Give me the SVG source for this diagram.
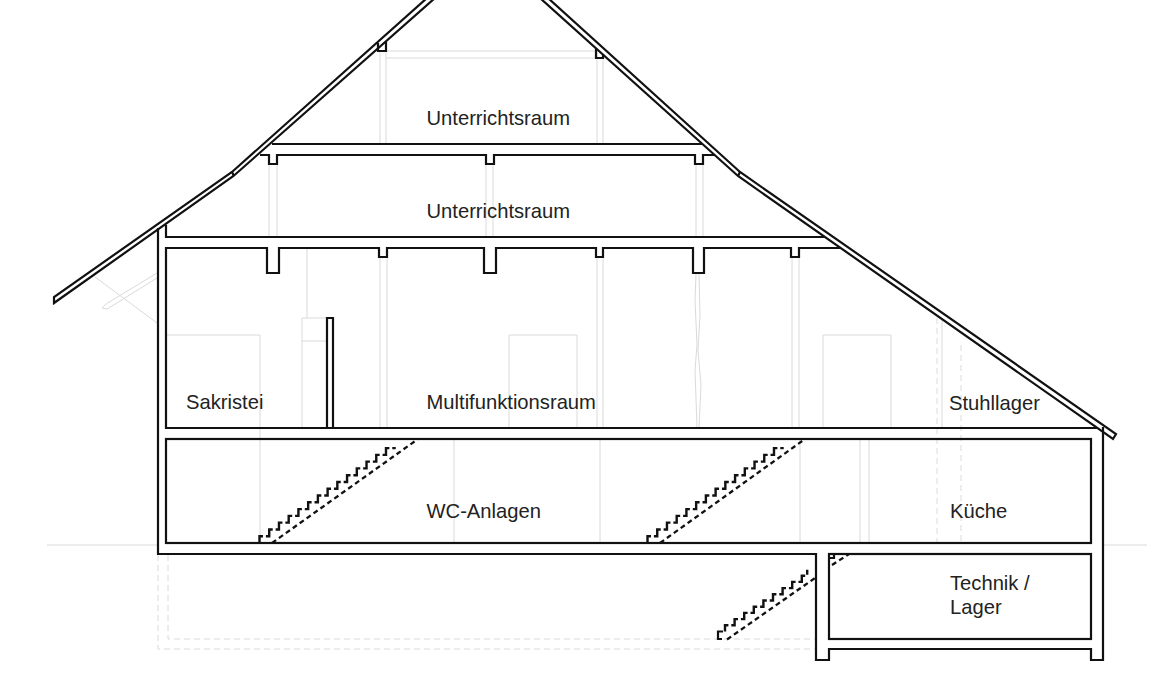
<svg xmlns="http://www.w3.org/2000/svg" width="1170" height="675" viewBox="0 0 1170 675">
<style>
.k{fill:none;stroke:#111;stroke-width:2.2;stroke-linejoin:miter}
.g{fill:none;stroke:#dadada;stroke-width:1}
.d{fill:none;stroke:#dadada;stroke-width:1;stroke-dasharray:6 4}
.s{fill:none;stroke:#111;stroke-width:2.4;stroke-dasharray:13.6 2.9;stroke-dashoffset:3.3}
.r{fill:none;stroke:#111;stroke-width:2.4;stroke-dasharray:12.9 2.9;stroke-dashoffset:3.3}
.t{fill:none;stroke:#111;stroke-width:2.3;stroke-dasharray:5 3.5}
text{font-family:"Liberation Sans",Arial,sans-serif;font-size:20.2px;fill:#222}
</style>
<rect width="1170" height="675" fill="#fff"/>
<g id="background-lines">
<path class="g" d="M47 545H158M1103 545H1147"/>
<path class="g" d="M380 51V144M386 51V144M386 51H597M386 58H597M597 51V144M603 58V144"/>
<path class="g" d="M269 164V237M277 164V237M486 164V237M493 164V237M696 164V237M703 164V237"/>
<path class="g" d="M307 248V318M380 257V428M387 257V428M597 257V428M603 257V428M792 257V428M799 257V428"/>
<path class="g" d="M696 274L695 300L697 345L695 370L697 428M699 274L700 315L698 350L701 385L699 428"/>
<path class="g" d="M166 335H260V543M302 318H327M302 341H327M302 318V428"/>
<path class="g" d="M509 428V335H577V428M823 428V335H891V428"/>
<path class="g" d="M454 439V543M600 439V543M800 439V543M860 439V543M869 439V543M942 320V428"/>
<path class="d" d="M937 318V543M961 345V543"/>
<path class="d" d="M158 555V649H816M168 555V639H816"/>
<path class="g" d="M95 277L157 323M157 273L106 304L102 308L107 309L157 278"/>
</g>
<g id="roof">
<path class="k" d="M435 -2L233.5 176L54 303V297L232 172L427 -2"/>
<path class="k" d="M232 172L234 176"/>
<path class="k" d="M548 -2L740 172L1116 434L1113 439L738 176L540 -2"/>
<path class="k" d="M740 172L738 176"/>
<path class="k" d="M378 43V51H386V42M596 48V58H603V55"/>
</g>
<g id="structure">
<path class="k" d="M158 228V554H816V660H829V649H1091V660H1103V427"/>
<path class="k" d="M166 225V237H825"/>
<path class="k" d="M272 144H702"/>
<path class="k" d="M260 155H269V164H277V155H486V164H494V155H695V164H703V155H715"/>
<path class="k" d="M840 248H799V257H791V248H704V273H693V248H603V257H596V248H496V273H484V248H387V257H379V248H279V273H267V248H166V428H1097"/>
<path class="k" d="M327 428V318H333V428"/>
<rect class="k" x="166" y="439" width="925" height="104"/>
<rect class="k" x="829" y="554" width="262" height="85"/>
</g>
<g id="stairs">
<path class="s" d="M259.5 543v-6.78h9.73v-6.78h9.73v-6.78h9.73v-6.78h9.73v-6.78h9.73v-6.78h9.73v-6.78h9.73v-6.78h9.73v-6.78h9.73v-6.78h9.73v-6.78h9.73v-6.78h9.73v-6.78h9.73v-6.78h9.73"/>
<path class="t" d="M272 543L418 439"/>
<path class="s" d="M647.5 543v-6.78h9.73v-6.78h9.73v-6.78h9.73v-6.78h9.73v-6.78h9.73v-6.78h9.73v-6.78h9.73v-6.78h9.73v-6.78h9.73v-6.78h9.73v-6.78h9.73v-6.78h9.73v-6.78h9.73v-6.78h9.73"/>
<path class="t" d="M660 543L805 439"/>
<path class="r" d="M725 631.5v-6.2h9.6v-6.2h9.6v-6.2h9.6v-6.2h9.6v-6.2h9.6v-6.2h9.6v-6.2h9.6v-6.2h9.6v-6.2h5.4v-6"/>
<path class="k" d="M723 631.5H718V639H722"/>
<path class="t" d="M727 639.5L815 578"/>
<path class="t" d="M832 565L849 554"/>
<path class="k" d="M829 558H834V554"/>
</g>
<g id="labels">
<text x="426.5" y="125">Unterrichtsraum</text>
<text x="426.5" y="218">Unterrichtsraum</text>
<text x="186" y="409">Sakristei</text>
<text x="426.5" y="409">Multifunktionsraum</text>
<text x="949" y="410">Stuhllager</text>
<text x="426.5" y="518">WC-Anlagen</text>
<text x="950" y="518">Küche</text>
<text x="950" y="590">Technik /</text>
<text x="950" y="614">Lager</text>
</g>
</svg>
